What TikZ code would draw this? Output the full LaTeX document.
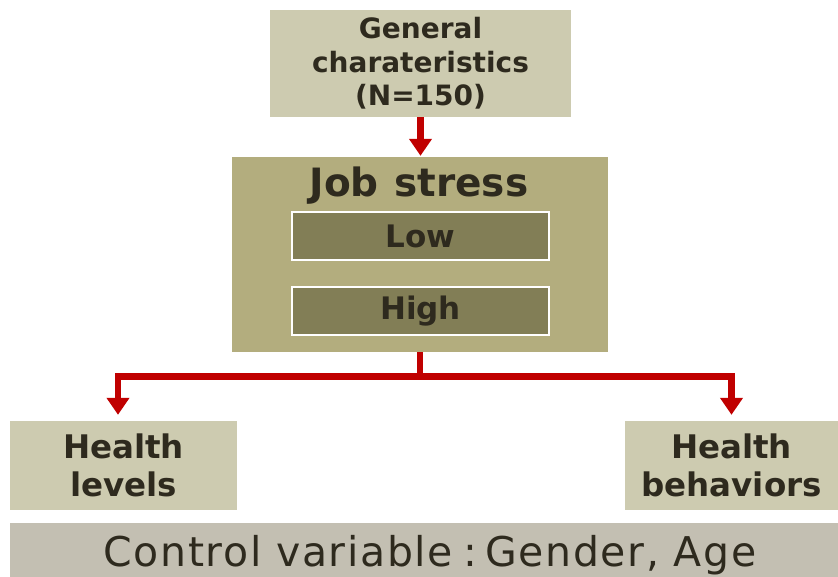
\documentclass[tikz,border=0pt]{standalone}
\usepackage{fontspec}
\setmainfont{DejaVu Sans}
\usetikzlibrary{arrows.meta}
\definecolor{genfill}{HTML}{CDCBB0}
\definecolor{jobfill}{HTML}{B3AD7E}
\definecolor{lvlfill}{HTML}{827E56}
\definecolor{ctrlfill}{HTML}{C3BFB2}
\definecolor{txt}{HTML}{2E2A1E}
\definecolor{arr}{HTML}{C00000}
\tikzset{
  box/.style={fill=#1, draw=none, inner sep=0pt, text=txt, align=center, font=\bfseries},
  inner/.style={fill=lvlfill, draw=white, line width=1.5pt, inner sep=0pt, text=txt, font=\bfseries\fontsize{31}{32}\selectfont},
  flow/.style={draw=arr, line width=6.5pt, -{Triangle[length=17pt,width=22pt]}},
}
\begin{document}
\begin{tikzpicture}[x=1pt,y=1pt]
\useasboundingbox (0,0) rectangle (838,-577);
\node[box=genfill, minimum width=301pt, minimum height=107pt, font=\bfseries\fontsize{28}{33.5}\selectfont] (gen) at (420.5,-63.5) {General\\charateristics\\(N=150)};
\node[box=jobfill, minimum width=376pt, minimum height=195pt] (job) at (420,-254.5) {};
\node[text=txt, font=\bfseries\fontsize{39}{40}\selectfont] (jt) at (419,-186) {Job\hspace{0.4em}stress};
\node[inner, minimum width=257pt, minimum height=48pt] (low) at (420.5,-236) {Low};
\node[inner, minimum width=257pt, minimum height=48pt] (high) at (420.5,-311) {High};
\node[box=genfill, minimum width=227pt, minimum height=89pt, font=\bfseries\fontsize{32.5}{38}\selectfont] (hl) at (123.5,-465.5) {Health\\levels};
\node[box=genfill, minimum width=213pt, minimum height=89pt, font=\bfseries\fontsize{32.5}{38}\selectfont] (hb) at (731.5,-465.5) {Health\\behaviors};
\node[box=ctrlfill, minimum width=828pt, minimum height=56pt] (ctrl) at (424,-551) {};
\node[anchor=base, inner sep=0pt, text=txt, font=\fontsize{41}{44}\selectfont\addfontfeature{LetterSpace=4}] (ctext) at (430,-566) {Control variable\hspace{0.25em}:\hspace{0.2em}Gender, Age};
\draw[flow, shorten >=1pt] (gen.south) -- (gen.south |- job.north);
\coordinate (split) at ([yshift=-24.5pt]job.south);
\draw[flow, shorten >=6pt] (job.south) -- (split) -| ([xshift=-5.5pt]hl.north);
\draw[flow, shorten >=6pt] (split) -| (hb.north);
\end{tikzpicture}
\end{document}
